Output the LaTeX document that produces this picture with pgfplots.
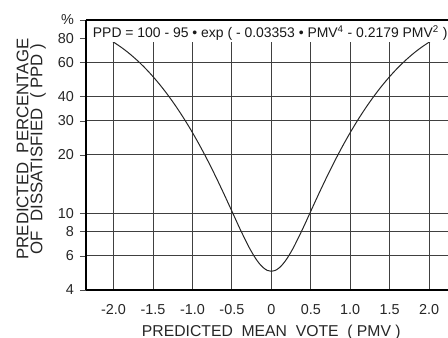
\documentclass[border=0pt]{standalone}
\usepackage{fontspec}
\setmainfont{Liberation Sans}
\usepackage{pgfplots}
\pgfplotsset{compat=1.18}
\begin{document}
\begin{tikzpicture}
\begin{axis}[
  name=ax,
  scale only axis,
  width=271.5pt, height=202.5pt,
  ymode=log,
  xmin=-2.35, xmax=2.24,
  ymin=4, ymax=100,
  enlargelimits=false,
  axis x line=box, axis y line=left,
  axis line style={-, line width=1.1pt, black},
  xtick={-2,-1.5,-1,-0.5,0,0.5,1,1.5,2},
  xticklabels={-2.0,-1.5,-1.0,-0.5,0,0.5,1.0,1.5,2.0},
  ytick={4,6,8,10,20,30,40,60,80,100},
  yticklabels={4,6,8,10,20,30,40,60,80,\%},
  minor ytick={},
  grid=major,
  major grid style={black!75, line width=0.75pt},
  xtick style={draw=none},
  ytick style={black!70, line width=0.6pt},
  tick align=outside,
  major tick length=4.5pt,
  tick label style={font=\fontsize{10.8}{12}\selectfont, text=black!85},
  yticklabel style={xshift=-1pt},
  xticklabel style={yshift=-3pt},
  xlabel={PREDICTED\ \ MEAN\ \ VOTE\ \ ( PMV )},
  xlabel style={at={(axis cs:0,4)}, anchor=center, yshift=-31.5pt, font=\fontsize{11.8}{13}\selectfont, text=black!85},
  ylabel={PREDICTED\ \ PERCENTAGE\\OF\ \ DISSATISFIED\ \ ( PPD )},
  ylabel style={at={(rel axis cs:0,0.522)}, anchor=center, yshift=41pt, align=center, font=\fontsize{12.6}{10.5}\selectfont, text=black!85},
]
\addplot[black!85, line width=0.75pt, smooth] coordinates {
(-2.1,81.07)(-2.05,78.97)(-2.0,76.77)(-1.9,72.05)(-1.8,67.02)(-1.7,61.75)(-1.6,56.35)(-1.5,50.90)(-1.4,45.51)(-1.3,40.27)(-1.2,35.25)(-1.1,30.51)(-1.0,26.12)(-0.9,22.10)(-0.8,18.49)(-0.7,15.30)(-0.6,12.55)(-0.5,10.23)(-0.4,8.33)(-0.3,6.87)(-0.25,6.30)(-0.2,5.83)(-0.15,5.47)(-0.1,5.21)(-0.05,5.05)(0,5.00)
(0.05,5.05)(0.1,5.21)(0.15,5.47)(0.2,5.83)(0.25,6.30)(0.3,6.87)(0.4,8.33)(0.5,10.23)(0.6,12.55)(0.7,15.30)(0.8,18.49)(0.9,22.10)(1.0,26.12)(1.1,30.51)(1.2,35.25)(1.3,40.27)(1.4,45.51)(1.5,50.90)(1.6,56.35)(1.7,61.75)(1.8,67.02)(1.9,72.05)(2.0,76.77)(2.05,78.97)
};
\fill[white] (rel axis cs:0.004,0.918) rectangle (rel axis cs:1,0.995);
\node[anchor=west, inner sep=0pt, xshift=5pt, font=\fontsize{10.45}{12}\selectfont, text=black!90] at (rel axis cs:0,0.952)
  {PPD = 100 - 95 • exp ( - 0.03353 • PMV\textsuperscript{4} - 0.2179 PMV\textsuperscript{2} )};
\end{axis}
\pgfresetboundingbox
\path ([shift={(-64.5pt,-36pt)}]ax.south west) rectangle ([shift={(0pt,15pt)}]ax.north east);
\end{tikzpicture}
\end{document}
